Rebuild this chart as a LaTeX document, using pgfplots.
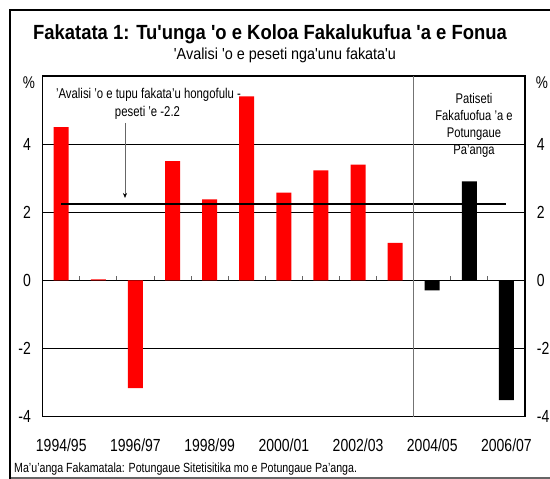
\documentclass[border=0pt]{standalone}
\usepackage{fontspec}
\setmainfont[FakeStretch=0.8]{Liberation Sans}
\newfontfamily\widefont[FakeStretch=0.9]{Liberation Sans}
\usepackage{pgfplots}
\pgfplotsset{compat=1.18}
\usetikzlibrary{arrows.meta}
\begin{document}
\begin{tikzpicture}[x=1pt,y=1pt]
\useasboundingbox (0,0) rectangle (550,479);
\draw[black!60, line width=1.2pt] (9.5,1) -- (552,1);
\draw[black, line width=2pt] (9.5,0) -- (9.5,469) -- (552,469);
\begin{axis}[
  at={(42.7pt,62.3pt)}, anchor=south west,
  width=482.3pt, height=340.7pt, scale only axis,
  xmin=-0.5, xmax=12.5, ymin=-4, ymax=6,
  xtick={0,2,4,6,8,10,12},
  xticklabels={1994/95,1996/97,1998/99,2000/01,2002/03,2004/05,2006/07},
  ytick={-4,-2,0,2,4},
  ymajorgrids, grid style={black, line width=0.8pt},
  major tick length=0pt,
  tick label style={font=\fontsize{17.5}{17.5}\selectfont},
  /pgf/number format/assume math mode=true,
  axis line style={line width=1.2pt},
  xticklabel style={anchor=base, inner sep=0pt, yshift=-34.6pt},
  yticklabel style={inner sep=0pt, xshift=-11.7pt},
  clip=false,
]
\addplot[ybar, bar width=15pt, bar shift=0pt, fill=red, draw=none]
  coordinates {(0,4.5) (1,0.03) (2,-3.16) (3,3.5) (4,2.38) (5,5.4) (6,2.58) (7,3.23) (8,3.4) (9,1.1)};
\addplot[ybar, bar width=15pt, bar shift=0pt, fill=black, draw=none]
  coordinates {(10,-0.29) (11,2.91) (12,-3.51)};
\addplot[black, line width=2pt] coordinates {(0,2.25) (12,2.25)};
\addplot[black!55, line width=0.8pt] coordinates {(9.5,-4) (9.5,6)};
\pgfplotsinvokeforeach{0.5,1.5,2.5,3.5,4.5,5.5,6.5,7.5,8.5,10.5,11.5}{
  \draw[black!60, line width=0.8pt] (axis cs:#1,0) -- ++(0pt,4pt);
}
\end{axis}
\begin{axis}[
  at={(42.7pt,62.3pt)}, anchor=south west,
  width=482.3pt, height=340.7pt, scale only axis,
  xmin=-0.5, xmax=12.5, ymin=-4, ymax=6,
  axis x line=none, axis y line*=right,
  ytick={-4,-2,0,2,4},
  major tick length=0pt,
  tick label style={font=\fontsize{17.5}{17.5}\selectfont},
  /pgf/number format/assume math mode=true,
  axis line style={line width=1.2pt},
  yticklabel style={inner sep=0pt, xshift=11.7pt},
]
\addplot[draw=none] coordinates {(0,0)};
\end{axis}
\node[font=\fontsize{17}{17}\selectfont] at (29,396) {\%};
\node[font=\fontsize{17}{17}\selectfont] at (542,396) {\%};
\node[anchor=base, font=\widefont\bfseries\fontsize{20.5}{24}\selectfont] at (270,439)
  {Fakatata 1: Tu'unga 'o e Koloa Fakalukufua 'a e Fonua};
\node[anchor=base, font=\widefont\fontsize{16}{18}\selectfont] at (285,419.5)
  {'Avalisi 'o e peseti nga'unu fakata'u};
\node[anchor=base, font=\fontsize{14.2}{16}\selectfont] at (148.5,380.7)
  {'Avalisi 'o e tupu fakata'u hongofulu -};
\node[anchor=base, font=\fontsize{14.2}{16}\selectfont] at (147.5,362.3)
  {peseti 'e -2.2};
\draw[black!60, line width=0.6pt, -{Stealth[length=5pt,width=4pt,black]}] (125,356) -- (125,281);
\node[anchor=base, font=\fontsize{14}{16}\selectfont] at (474,375) {Patiseti};
\node[anchor=base, font=\fontsize{14}{16}\selectfont] at (474,358) {Fakafuofua 'a e};
\node[anchor=base, font=\fontsize{14}{16}\selectfont] at (474,341) {Potungaue};
\node[anchor=base, font=\fontsize{14}{16}\selectfont] at (474,324) {Pa'anga};
\node[anchor=base west, inner sep=0pt, font=\fontsize{13.3}{16}\selectfont] at (14,6)
  {Ma'u'anga Fakamatala: Potungaue Sitetisitika mo e Potungaue Pa'anga.};
\end{tikzpicture}
\end{document}
